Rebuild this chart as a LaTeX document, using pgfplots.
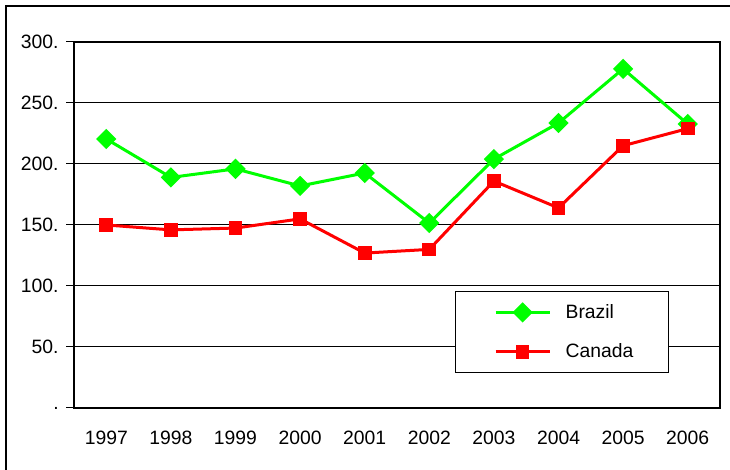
\documentclass[border=0pt]{standalone}
\usepackage{pgfplots}
\pgfplotsset{compat=1.18}
\usepackage{fontspec}
\setmainfont{Liberation Sans}
\definecolor{bgreen}{RGB}{0,255,0}
\definecolor{cred}{RGB}{255,0,0}
\begin{document}
\begin{tikzpicture}
\useasboundingbox (0,0) rectangle (547.5pt,352.5pt);
\draw[line width=1.1pt] (4.5pt,-10pt) -- (4.5pt,348pt) -- (560pt,348pt);
\begin{axis}[
  at={(55.5pt,46.5pt)}, anchor=south west,
  scale only axis, width=484.5pt, height=274.5pt,
  xmin=-0.5, xmax=9.5, ymin=0, ymax=300,
  xtick={0,...,9},
  xticklabels={1997,1998,1999,2000,2001,2002,2003,2004,2005,2006},
  x tick style={draw=none},
  extra x ticks={-0.5,0.5,...,9.5},
  extra x tick labels={},
  extra x tick style={tick style={draw=black, line width=0.75pt}, major tick length=4.5pt, tick align=outside},
  ytick={0,50,...,300},
  yticklabels={.,50.,100.,150.,200.,250.,300.},
  y tick style={black, line width=0.75pt},
  major tick length=6pt,
  tick align=outside,
  tick pos=left,
  ymajorgrids,
  grid style={black, line width=0.75pt},
  axis line style={black, line width=1pt},
  /pgf/number format/assume math mode=true,
  tick label style={font=\fontsize{14.5}{17}\selectfont},
  xticklabel style={yshift=-7.5pt},
  yticklabel style={xshift=-2pt},
  legend style={at={(0.59,0.32)}, anchor=north west, draw=black, line width=0.75pt, fill=white,
    inner xsep=0pt, inner ysep=1pt, column sep=0pt, row sep=0pt,
    nodes={inner sep=0pt, font=\fontsize{14.5}{17}\selectfont, text width=77.25pt, align=left, anchor=west},
    },
  legend image code/.code={
    \path[draw=none, fill=none] (0pt,-14.8pt) rectangle (82.5pt,14.8pt);
    \draw[#1, mark repeat=2, mark phase=2] plot coordinates {(30pt,0pt) (50.25pt,0pt) (70.5pt,0pt)};
  },
]
\addplot[bgreen, line width=2.25pt, mark=square*, mark size=4.25pt, mark options={rotate=45, solid}]
  coordinates {(0,220.5) (1,189) (2,196) (3,182) (4,192.6) (5,151.6) (6,204) (7,233.6) (8,278) (9,232.8)};
\addlegendentry{Brazil}
\addplot[cred, line width=2.25pt, mark=square*, mark size=4pt, mark options={solid}]
  coordinates {(0,150) (1,146) (2,147.5) (3,155) (4,127) (5,130) (6,186) (7,164) (8,215) (9,229)};
\addlegendentry{Canada}
\end{axis}
\end{tikzpicture}
\end{document}
